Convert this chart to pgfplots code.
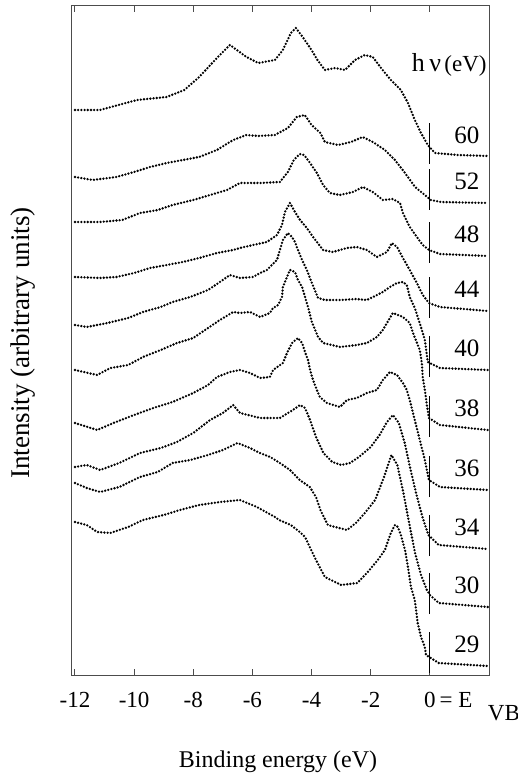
\documentclass[border=0pt]{standalone}
\usepackage{fontspec}
\setmainfont{Liberation Serif}
\usepackage{pgfplots}
\pgfplotsset{compat=1.18}
\begin{document}
\begin{tikzpicture}
\begin{axis}[
  scale only axis, width=208.5pt, height=334.5pt,
  xmin=-12.1, xmax=2, ymin=0, ymax=669,
  xtick={-12,-10,-8,-6,-4,-2,0},
  xticklabels={-12,-10,-8,-6,-4,-2,0},
  ytick=\empty, xtick pos=both,
  tick align=inside, major tick length=3pt,
  axis line style={line width=0.5pt, black!70},
  tick style={line width=0.5pt, black!70},
  xticklabel style={font=\fontsize{11.5}{13}\selectfont, anchor=center, yshift=-12.5pt},
  xlabel={Binding energy (eV)},
  xlabel style={font=\fontsize{12}{14}\selectfont, at={(axis description cs:0.494,-0.130)}, anchor=center},
  ylabel={Intensity (arbitrary units)},
  ylabel style={font=\fontsize{13.5}{15}\selectfont, at={(axis description cs:-0.1175,0.496)}, anchor=center},
  clip=false,
  every axis plot/.append style={black, no markers},
  spec/.style={line width=1.3pt, dash pattern=on 0pt off 1.6pt, line cap=round},
  bar/.style={line width=0.6pt},
]
% hv = 60
\addplot[spec] coordinates {(-12,565) (-11.15,565) (-9.9,575) (-8.9,578) (-8.3,585) (-7.8,598) (-7.2,617) (-6.76,630) (-6.2,618) (-5.8,612) (-5.24,615) (-4.97,625) (-4.7,642) (-4.53,647) (-4.3,638) (-4.0,625) (-3.8,615) (-3.55,605) (-3.2,607) (-2.87,605) (-2.53,615) (-2.2,620) (-1.93,618) (-1.65,607) (-1.32,595) (-0.98,585) (-0.74,572) (-0.51,555) (-0.3,542) (-0.07,530) (0.17,522) (0.95,520) (1.96,519)};
% hv = 52
\addplot[spec] coordinates {(-12,498) (-11.4,495) (-10.6,498) (-10,503) (-9.46,508) (-8.9,512) (-8.35,515) (-7.8,518) (-7.2,525) (-6.65,535) (-6.2,540) (-5.8,539) (-5.24,540) (-4.8,547) (-4.5,558) (-4.23,560) (-4.0,550) (-3.7,542) (-3.55,533) (-3.1,530) (-2.67,533) (-2.27,538) (-1.93,533) (-1.52,525) (-1.18,515) (-0.84,502) (-0.5,488) (-0.17,480) (0.03,475) (0.37,473) (1.96,472)};
% hv = 48
\addplot[spec] coordinates {(-12,453) (-11.15,453) (-10.4,455) (-9.8,462) (-9.2,465) (-8.7,470) (-8.0,475) (-7.43,480) (-6.86,485) (-6.42,492) (-5.74,492) (-5.07,493) (-4.8,503) (-4.6,515) (-4.4,521) (-4.25,520) (-4.05,512) (-3.82,502) (-3.61,490) (-3.38,482) (-3.04,480) (-2.6,483) (-2.26,488) (-1.93,483) (-1.59,475) (-1.25,476) (-1.01,472) (-0.91,462) (-0.68,448) (-0.44,438) (-0.24,430) (-0.03,425) (0.34,421) (1.96,419)};
% hv = 44
\addplot[spec] coordinates {(-12,398) (-11.15,397) (-10.6,398) (-10.0,402) (-9.46,407) (-8.9,410) (-8.35,413) (-7.8,417) (-7.2,422) (-6.65,425) (-6.42,427) (-5.98,430) (-5.51,433) (-5.17,440) (-5.0,450) (-4.9,463) (-4.73,472) (-4.56,463) (-4.39,455) (-4.16,447) (-3.95,438) (-3.61,425) (-3.28,423) (-2.8,427) (-2.47,428) (-2.13,425) (-1.79,418) (-1.45,423) (-1.28,432) (-1.11,428) (-0.91,417) (-0.68,405) (-0.44,392) (-0.24,380) (-0.03,372) (0.34,368) (1.96,364)};
% hv = 40
\addplot[spec] coordinates {(-12,350) (-11.6,348) (-10.9,352) (-10.2,357) (-9.7,363) (-9.1,368) (-8.7,373) (-8.1,378) (-7.5,385) (-7.1,393) (-6.76,400) (-6.42,397) (-5.98,398) (-5.74,402) (-5.51,405) (-5.17,415) (-5.07,425) (-4.97,435) (-4.8,442) (-4.66,438) (-4.56,433) (-4.46,425) (-4.32,415) (-4.16,405) (-3.99,392) (-3.78,377) (-3.55,375) (-3.0,375) (-2.5,376) (-2.13,375) (-1.92,378) (-1.59,383) (-1.35,388) (-1.11,392) (-0.91,393) (-0.78,390) (-0.68,378) (-0.51,367) (-0.41,358) (-0.3,348) (-0.17,335) (-0.07,313) (0.34,307) (1.96,305)};
% hv = 38
\addplot[spec] coordinates {(-12,305) (-11.25,300) (-10.8,307) (-10.2,310) (-9.7,318) (-9.1,325) (-8.55,332) (-8.0,337) (-7.5,347) (-7.1,355) (-6.65,363) (-6.42,362) (-6.08,363) (-5.74,358) (-5.41,362) (-5.3,367) (-5.13,370) (-5.0,378) (-4.97,388) (-4.83,398) (-4.73,405) (-4.56,403) (-4.46,395) (-4.32,388) (-4.22,378) (-4.12,368) (-3.99,353) (-3.78,338) (-3.61,332) (-3.04,328) (-2.47,330) (-2.13,332) (-1.79,338) (-1.59,345) (-1.25,362) (-0.91,358) (-0.68,352) (-0.57,342) (-0.34,325) (-0.27,312) (-0.24,298) (-0.17,285) (-0.1,270) (-0.03,257) (0.34,250) (1.96,245)};
% hv = 36
\addplot[spec] coordinates {(-12,252) (-11.25,245) (-10.7,252) (-10.0,260) (-9.35,267) (-8.7,273) (-8.0,282) (-7.5,290) (-7.2,298) (-6.76,303) (-6.42,305) (-6.08,302) (-5.74,297) (-5.41,298) (-5.3,305) (-4.97,312) (-4.83,322) (-4.66,332) (-4.46,337) (-4.32,332) (-4.22,323) (-4.12,315) (-4.05,305) (-3.95,295) (-3.82,285) (-3.72,278) (-3.48,272) (-3.04,268) (-2.8,275) (-2.47,277) (-2.13,282) (-1.79,285) (-1.59,295) (-1.35,303) (-1.11,300) (-0.91,292) (-0.78,285) (-0.68,275) (-0.51,255) (-0.34,235) (-0.17,215) (-0.03,195) (0.34,188) (1.96,185)};
% hv = 34
\addplot[spec] coordinates {(-12,208) (-11.6,210) (-11.15,205) (-10.5,212) (-9.8,222) (-9.1,227) (-8.55,233) (-8.0,242) (-7.43,255) (-7.0,262) (-6.65,270) (-6.42,262) (-5.74,257) (-5.07,257) (-4.63,265) (-4.39,270) (-4.22,267) (-4.05,255) (-3.85,238) (-3.6,222) (-3.3,213) (-3.0,210) (-2.7,212) (-2.4,218) (-2.0,228) (-1.7,240) (-1.45,253) (-1.25,260) (-1.05,252) (-0.85,232) (-0.65,205) (-0.45,180) (-0.25,158) (-0.05,140) (0.3,130) (1.96,126)};
% hv = 30
\addplot[spec] coordinates {(-12,192) (-11.6,187) (-11.15,183) (-10.5,188) (-9.8,198) (-9.2,203) (-8.7,212) (-8.1,215) (-7.5,220) (-7.0,225) (-6.5,232) (-6.08,227) (-5.75,222) (-5.4,218) (-5.07,212) (-4.73,205) (-4.4,195) (-4.06,188) (-3.85,178) (-3.7,165) (-3.45,150) (-3.2,148) (-2.8,145) (-2.5,152) (-2.2,162) (-1.85,175) (-1.55,198) (-1.3,220) (-1.1,210) (-0.9,183) (-0.7,152) (-0.5,122) (-0.3,100) (-0.1,85) (0,80) (0.3,72) (1.96,68)};
% hv = 29
\addplot[spec] coordinates {(-12,153) (-11.6,150) (-11.25,143) (-10.8,142) (-10.2,148) (-9.7,155) (-9.0,160) (-8.45,165) (-7.8,170) (-7.1,173) (-6.42,175) (-5.85,168) (-5.24,158) (-5.1,155) (-4.7,150) (-4.36,142) (-4.22,138) (-3.9,118) (-3.55,98) (-3.0,90) (-2.45,92) (-2.1,103) (-1.76,115) (-1.52,125) (-1.32,142) (-1.18,150) (-1.08,148) (-0.98,140) (-0.84,125) (-0.74,108) (-0.64,88) (-0.51,75) (-0.41,52) (-0.3,38) (-0.17,28) (-0.13,20) (0.3,12) (1.96,9)};
% Fermi-level markers
\addplot[bar] coordinates {(0,511) (0,552)};
\addplot[bar] coordinates {(0,465) (0,506)};
\addplot[bar] coordinates {(0,412) (0,453)};
\addplot[bar] coordinates {(0,357) (0,398)};
\addplot[bar] coordinates {(0,298) (0,339)};
\addplot[bar] coordinates {(0,238) (0,279)};
\addplot[bar] coordinates {(0,178) (0,219)};
\addplot[bar] coordinates {(0,119) (0,160)};
\addplot[bar] coordinates {(0,61) (0,102)};
\addplot[bar] coordinates {(0,2) (0,43)};
% photon energy labels
\begin{scope}[every node/.style={font=\fontsize{12.5}{14}\selectfont, anchor=center}]
\node at (axis cs:1.25,540) {60};
\node at (axis cs:1.25,494) {52};
\node at (axis cs:1.25,441) {48};
\node at (axis cs:1.25,386) {44};
\node at (axis cs:1.25,327) {40};
\node at (axis cs:1.25,267) {38};
\node at (axis cs:1.25,207) {36};
\node at (axis cs:1.25,148) {34};
\node at (axis cs:1.25,90) {30};
\node at (axis cs:1.25,31) {29};
\end{scope}
\node[anchor=east, inner sep=0pt] at (axis cs:1.93,610) {{\fontsize{13}{15}\selectfont h\,ν}\,{\fontsize{11.5}{13}\selectfont(eV)}};
\node[anchor=west, inner sep=0pt, font=\fontsize{11.5}{13}\selectfont] at (axis cs:0.32,-25) {= E};
\node[anchor=west, inner sep=0pt, font=\fontsize{11.5}{13}\selectfont] at (axis cs:1.95,-38) {VB};
\end{axis}
\pgfresetboundingbox
\path[use as bounding box] ([shift={(-36pt,-50.5pt)}]current axis.south west) rectangle ([shift={(14.5pt,3pt)}]current axis.north east);
\end{tikzpicture}
\end{document}
